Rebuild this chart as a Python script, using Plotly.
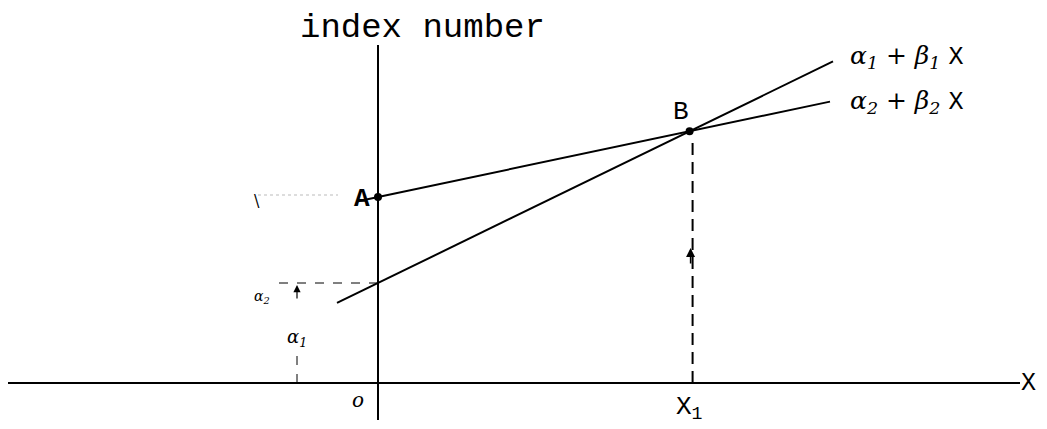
import plotly.graph_objects as go

# two index-number lines: alpha + beta * X  (units: picture pixels from origin)
alpha = [100, 186]
beta = [0.487, 0.211]
line_labels = [
    "<i>α<sub>1</sub> + β<sub>1</sub></i> <span style='font-family:Liberation Mono'>X</span>",
    "<i>α<sub>2</sub> + β<sub>2</sub></i> <span style='font-family:Liberation Mono'>X</span>",
]
line_x_start = [-41, -20]
line_x_end = [455, 452]

# crossing point B
x1 = (alpha[1] - alpha[0]) / (beta[0] - beta[1])
y_b = alpha[0] + beta[0] * x1

black = "black"
hand = "DejaVu Serif"
mono = "Liberation Mono"

fig = go.Figure()

# axes drawn by hand
fig.add_trace(go.Scatter(x=[-378, 642], y=[0, 0], mode="lines",
                         line=dict(color=black, width=2), hoverinfo="skip"))
fig.add_trace(go.Scatter(x=[0, 0], y=[-37, 338], mode="lines",
                         line=dict(color=black, width=2), hoverinfo="skip"))

for a, b, xs, xe in zip(alpha, beta, line_x_start, line_x_end):
    fig.add_trace(go.Scatter(x=[xs, xe], y=[a + b * xs, a + b * xe], mode="lines",
                             line=dict(color=black, width=2), hoverinfo="skip"))

# dashed guides
fig.add_trace(go.Scatter(x=[x1 + 3, x1 + 3], y=[0, y_b - 7], mode="lines",
                         line=dict(color=black, width=2, dash="12px,7px"), hoverinfo="skip"))
fig.add_trace(go.Scatter(x=[-99, 0], y=[alpha[0], alpha[0]], mode="lines",
                         line=dict(color=black, width=1, dash="dash"), hoverinfo="skip"))
fig.add_trace(go.Scatter(x=[-81, -81], y=[0, 31], mode="lines",
                         line=dict(color=black, width=1, dash="dash"), hoverinfo="skip"))
fig.add_trace(go.Scatter(x=[-120, -40], y=[188, 188], mode="lines",
                         line=dict(color="#bbbbbb", width=1, dash="dot"), hoverinfo="skip"))

# points A and B
fig.add_trace(go.Scatter(x=[0, x1], y=[alpha[1], y_b], mode="markers",
                         marker=dict(color=black, size=8), hoverinfo="skip"))

# little arrows
fig.add_annotation(x=-81, y=98, ax=-81, ay=83, xref="x", yref="y", axref="x", ayref="y",
                   text="", showarrow=True, arrowhead=2, arrowsize=1.2, arrowwidth=1.2,
                   arrowcolor=black)
fig.add_annotation(x=x1 + 1, y=135, ax=x1 + 1, ay=118, xref="x", yref="y", axref="x", ayref="y",
                   text="", showarrow=True, arrowhead=2, arrowsize=1.2, arrowwidth=1.5,
                   arrowcolor=black)

texts = [
    (44, 355, "index number", mono, 34, "normal"),
    (-16, 184, "A", mono, 26, "bold"),
    (x1 - 9, 271, "B", mono, 26, "normal"),
    (650, 0, "X", mono, 25, "normal"),
    (-20, -17, "o", hand, 20, "italic"),
    (x1, -25, "X<sub>1</sub>", mono, 26, "normal"),
    (-116, 86, "α<sub>2</sub>", hand, 14, "italic"),
    (-81, 45, "α<sub>1</sub>", hand, 18, "italic"),
    (-121, 183, "\\", hand, 16, "normal"),
]
for x, y, t, f, s, st in texts:
    fig.add_annotation(x=x, y=y, text=t, showarrow=False, xref="x", yref="y",
                       font=dict(family=f, size=s, color=black,
                                 style="italic" if st == "italic" else "normal",
                                 weight="bold" if st == "bold" else "normal"))

for i, lab in enumerate(line_labels):
    fig.add_annotation(x=470, y=[326, 281][i], text=lab, showarrow=False, xanchor="left",
                       xref="x", yref="y",
                       font=dict(family=hand, size=25, color=black))

# page body adds an 8px margin, so the figure is 8px smaller and ranges shifted
fig.update_layout(
    width=1039, height=421,
    margin=dict(l=0, r=0, t=0, b=0),
    plot_bgcolor="white", paper_bgcolor="white",
    showlegend=False,
    xaxis=dict(range=[-370, 669], visible=False, fixedrange=True),
    yaxis=dict(range=[-46, 375], visible=False, fixedrange=True),
)

fig.write_html("out.html")
